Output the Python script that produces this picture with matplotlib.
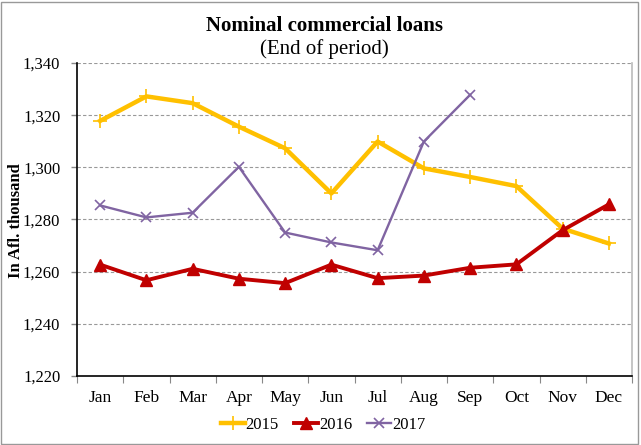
import numpy as np
import matplotlib
matplotlib.use("Agg")
import matplotlib.pyplot as plt
from matplotlib.patches import Rectangle

months = ["Jan", "Feb", "Mar", "Apr", "May", "Jun", "Jul", "Aug", "Sep", "Oct", "Nov", "Dec"]
loans_2015 = [1317.8, 1327.2, 1324.6, 1315.6, 1307.3, 1290.0, 1309.9, 1299.6, 1296.3, 1292.8, 1276.5, 1270.8]
loans_2016 = [1262.7, 1256.7, 1261.1, 1257.3, 1255.6, 1262.7, 1257.5, 1258.5, 1261.5, 1262.8, 1275.9, 1285.8]
loans_2017 = [1285.4, 1280.8, 1282.6, 1300.2, 1275.0, 1271.2, 1268.2, 1309.9, 1327.8]
y_ticks = np.arange(1220, 1341, 20)

plt.rcParams['font.family'] = ['Liberation Serif', 'DejaVu Serif']

W, H = 641, 445
fig = plt.figure(figsize=(W / 100, H / 100), dpi=100)
# plot area in pixels: left 77, right 632, top 63, bottom 376
ax = fig.add_axes([77 / W, 1 - 376 / H, (632 - 77) / W, (376 - 63) / H])

x = np.arange(len(months))
ax.plot(x, loans_2015, color='#FFC000', lw=3.2, marker='+', ms=10, mew=1.2, label='2015', zorder=3)
ax.plot(x, loans_2016, color='#C00000', lw=2.8, marker='^', ms=9, label='2016', zorder=4)
ax.plot(x[:len(loans_2017)], loans_2017, color='#8064A2', lw=1.7, marker='x', ms=7, mew=1.2,
        label='2017', zorder=5)

ax.set_xlim(-0.5, len(months) - 0.5)
ax.set_ylim(1220, 1340)
ax.set_yticks(y_ticks)
ax.set_yticklabels(["{:,}".format(v) for v in y_ticks], fontsize=12)
ax.set_xticks(x)
ax.set_xticklabels(months, fontsize=12.5)
ax.tick_params(axis='x', length=0, pad=10)
ax.tick_params(axis='y', length=4, width=1, color='#888888', pad=8)
# category boundary ticks
ax.set_xticks(np.arange(-0.5, len(months), 1), minor=True)
ax.tick_params(axis='x', which='minor', length=5, color='#888888', width=0.8)

for v in y_ticks[1:]:
    ax.axhline(v, color='#999999', lw=0.8, ls=(0, (3, 2)), zorder=1)

ax.spines['top'].set_visible(False)
ax.spines['right'].set_color('#BBBBBB')
ax.spines['right'].set_linewidth(1.2)
ax.spines['left'].set_linewidth(1.2)
ax.spines['bottom'].set_linewidth(1.2)

ax.set_ylabel("In Afl. thousand", fontsize=12, fontweight='bold')
ax.yaxis.set_label_coords((24 - 77) / 555, (376 - 221) / 313)

fig.text(324 / W, 1 - 26 / H, "Nominal commercial loans", ha='center', va='center',
         fontsize=15, fontweight='bold')
fig.text(324 / W, 1 - 49 / H, "(End of period)", ha='center', va='center', fontsize=15)

fig.legend(loc='center', bbox_to_anchor=(323 / W, 1 - 425 / H), ncol=3, frameon=False,
           fontsize=12, handlelength=1.45, columnspacing=0.9, handletextpad=0.05)

fig.patches.append(Rectangle((0.002, 0.003), 0.994, 0.993, transform=fig.transFigure,
                             fill=False, edgecolor='#999999', lw=1))

fig.savefig("out.png", dpi=100)
